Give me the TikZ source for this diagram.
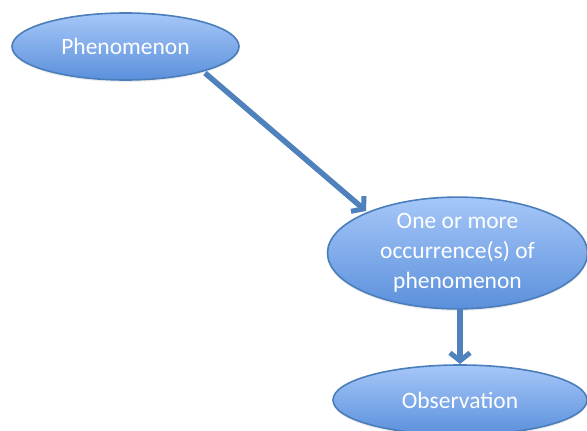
\documentclass[tikz,border=0pt]{standalone}
\usepackage{fontspec}
\setmainfont{Carlito}
\usetikzlibrary{shapes.geometric,arrows.meta,shadows}
\definecolor{topc}{HTML}{A6C7F8}
\definecolor{botc}{HTML}{5B90DC}
\definecolor{edgec}{HTML}{4A7EBB}
\definecolor{arrc}{HTML}{4F81BD}
\tikzset{
  bubble/.style={ellipse, draw=edgec, line width=1.6pt, top color=topc, bottom color=botc,
    text=white, font=\fontsize{23.5}{30}\selectfont, align=center, inner sep=0pt,
    drop shadow={opacity=0.15, shadow xshift=0pt, shadow yshift=-2pt}},
  conn/.style={draw=arrc, line width=5.5pt, -{Straight Barb[length=8pt,width=20pt,line width=5pt]}}
}
\begin{document}
\begin{tikzpicture}[x=1pt,y=-1pt]
\useasboundingbox (0,0) rectangle (587,431);
\node[bubble, minimum width=227pt, minimum height=67pt] (p) at (125.5,46.5) {Phenomenon};
\node[bubble, minimum width=260pt, minimum height=111pt] (o) at (457.5,253) {One or more\\occurrence(s) of\\phenomenon};
\node[bubble, minimum width=254pt, minimum height=70pt] (obs) at (460,400) {Observation};
\coordinate (a1s) at (205,73);
\coordinate (a1e) at (366,211);
\draw[conn] (a1s) -- (a1e);
\coordinate (a2s) at (460,308);
\coordinate (a2e) at (460,364);
\draw[conn] (a2s) -- (a2e);
\end{tikzpicture}
\end{document}
